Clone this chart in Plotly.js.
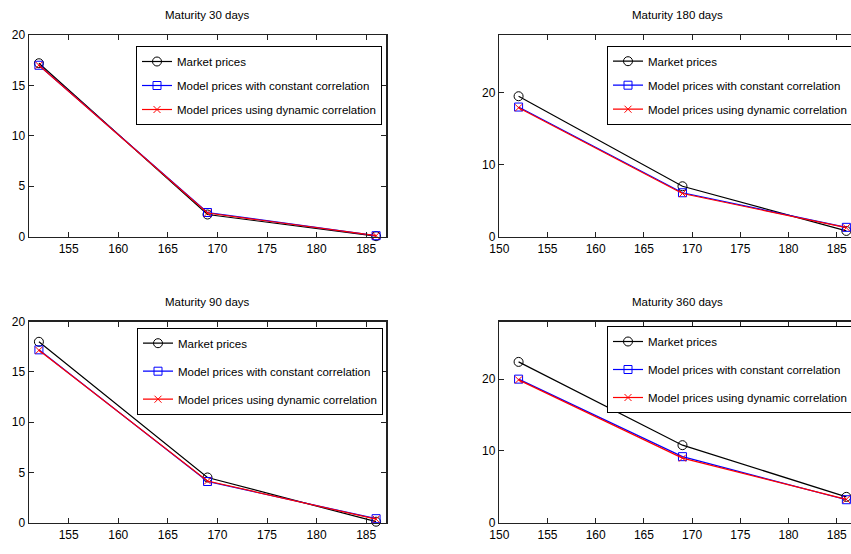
<!DOCTYPE html>
<html>
<head>
<meta charset="utf-8">
<script src="https://cdn.plot.ly/plotly-3.0.1.min.js"></script>
<style>
html, body { margin: 0; padding: 0; overflow: hidden; background: #fff; }
#chart { width: 900px; height: 554px; }
</style>
</head>
<body>
<div id="chart"></div>
<script>
// Strike prices (x values)
const strikes = [152, 169, 186];

// Subplot titles
const titles = ['Maturity 30 days', 'Maturity 180 days', 'Maturity 90 days', 'Maturity 360 days'];

// Series names
const seriesNames = ['Market prices', 'Model prices with constant correlation', 'Model prices using dynamic correlation'];

// Maturity 30 days
const market30 = [17.2, 2.2, 0.05];
const const30 = [17.0, 2.4, 0.1];
const dyn30 = [17.0, 2.35, 0.1];

// Maturity 180 days
const market180 = [19.5, 7.0, 0.8];
const const180 = [18.0, 6.1, 1.3];
const dyn180 = [17.9, 6.0, 1.25];

// Maturity 90 days
const market90 = [18.0, 4.5, 0.1];
const const90 = [17.2, 4.1, 0.4];
const dyn90 = [17.15, 4.15, 0.35];

// Maturity 360 days
const market360 = [22.4, 10.8, 3.6];
const const360 = [20.0, 9.2, 3.2];
const dyn360 = [19.9, 9.0, 3.25];

const W = 900, H = 554;
const FONT = 'Liberation Sans, Arial, sans-serif';

const panels = [
  {m: market30, c: const30, d: dyn30, ax: '', leg: 'legend'},
  {m: market180, c: const180, d: dyn180, ax: '2', leg: 'legend2'},
  {m: market90, c: const90, d: dyn90, ax: '3', leg: 'legend3'},
  {m: market360, c: const360, d: dyn360, ax: '4', leg: 'legend4'}
];

const styles = [
  {color: 'black', symbol: 'circle-open', size: 9},
  {color: 'blue', symbol: 'square-open', size: 8},
  {color: 'red', symbol: 'x-thin-open', size: 7}
];

const traces = [];
panels.forEach((p, i) => {
  [p.m, p.c, p.d].forEach((ys, k) => {
    const s = styles[k];
    traces.push({
      type: 'scatter', mode: 'lines+markers',
      x: strikes, y: ys,
      name: seriesNames[k],
      xaxis: 'x' + p.ax, yaxis: 'y' + p.ax,
      legend: p.leg,
      legendgroup: 'g' + i + '_' + k,
      line: {color: s.color, width: 1.2},
      marker: {symbol: s.symbol, size: s.size, color: s.color, line: {color: s.color, width: 1}},
      cliponaxis: false
    });
  });
});

// pixel geometry
const colX = [[29, 386], [499.3, 856]];
const rowY = [[35, 236.7], [321.7, 522.7]];
function xd(c) { return [colX[c][0] / W, colX[c][1] / W]; }
function yd(r) { return [1 - rowY[r][1] / H, 1 - rowY[r][0] / H]; }

function xaxis(c, r, anchor) {
  return {
    domain: xd(c), anchor: anchor,
    range: c === 0 ? [151, 187] : [150, 187],
    tick0: 150, dtick: 5, ticks: 'inside', ticklen: 5, tickwidth: 1, tickcolor: '#222',
    showline: true, linecolor: '#222', linewidth: 1.5, mirror: 'ticks',
    showgrid: false, zeroline: false,
    tickfont: {family: FONT, size: 12, color: '#000'}
  };
}
function yaxis(c, r, anchor) {
  return {
    domain: yd(r), anchor: anchor,
    range: c === 0 ? [0, 20] : [0, 28],
    tick0: 0, dtick: c === 0 ? 5 : 10, ticks: 'inside', ticklen: 5, tickwidth: 1, tickcolor: '#222',
    showline: true, linecolor: '#222', linewidth: 1.5, mirror: 'ticks',
    showgrid: false, zeroline: false,
    tickfont: {family: FONT, size: 12, color: '#000'}
  };
}

function legendAt(xRight, yTop, gap) {
  return {
    x: xRight / W, xanchor: 'right', y: 1 - yTop / H, yanchor: 'top',
    bgcolor: 'white', bordercolor: 'black', borderwidth: 1,
    font: {family: FONT, size: 11.5, color: '#000'},
    tracegroupgap: gap, traceorder: 'grouped'
  };
}

const cells = [[0, 0], [1, 0], [0, 1], [1, 1]];
const annotations = cells.map(([c, r], i) => ({
  text: titles[i], showarrow: false,
  x: (colX[c][0] + colX[c][1]) / 2 / W, xref: 'paper', xanchor: 'center',
  y: 1 - (rowY[r][0] - 20) / H, yref: 'paper', yanchor: 'middle',
  font: {family: FONT, size: 11.5, color: '#000'}
}));

const layout = {
  width: W, height: H,
  margin: {l: 0, r: 0, t: 0, b: 0},
  paper_bgcolor: 'white', plot_bgcolor: 'white',
  showlegend: true,
  xaxis: xaxis(0, 0, 'y'), yaxis: yaxis(0, 0, 'x'),
  xaxis2: xaxis(1, 0, 'y2'), yaxis2: yaxis(1, 0, 'x2'),
  xaxis3: xaxis(0, 1, 'y3'), yaxis3: yaxis(0, 1, 'x3'),
  xaxis4: xaxis(1, 1, 'y4'), yaxis4: yaxis(1, 1, 'x4'),
  legend: legendAt(382, 46, 5),
  legend2: legendAt(853, 45.7, 5),
  legend3: legendAt(383, 327.7, 9),
  legend4: legendAt(853, 326, 9),
  annotations: annotations
};

Plotly.newPlot('chart', traces, layout, {displayModeBar: false, staticPlot: true});
</script>
</body>
</html>
